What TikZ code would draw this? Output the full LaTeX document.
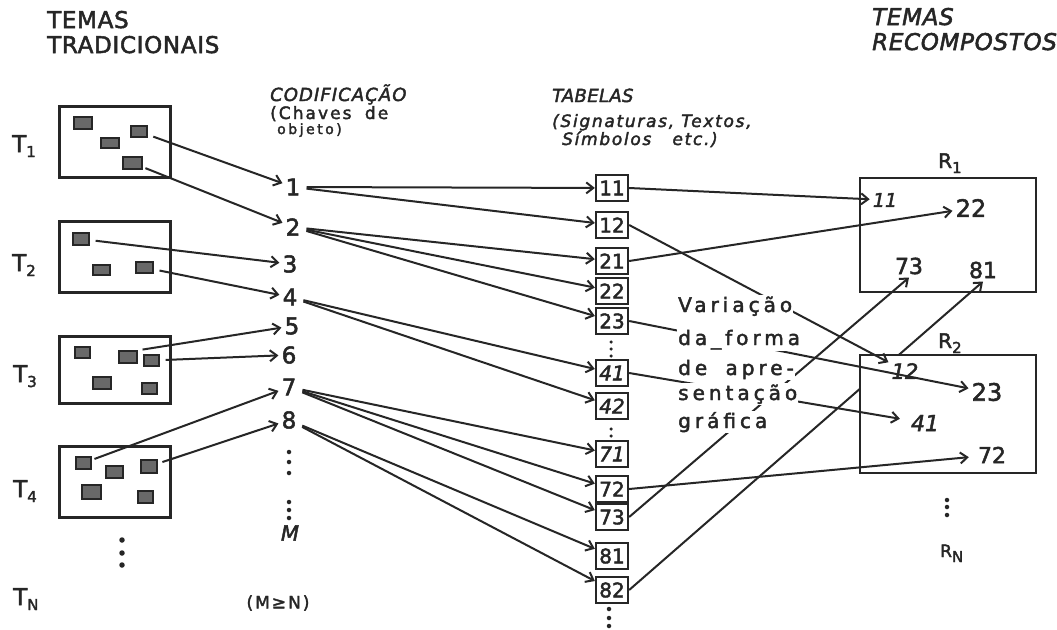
\documentclass[tikz,border=0pt]{standalone}
\usepackage{fontspec}
\setmainfont{DejaVu Sans}[FakeBold=2.2]
\usetikzlibrary{arrows.meta}
\definecolor{ink}{RGB}{38,38,38}
\definecolor{chip}{RGB}{105,105,105}
\newcommand\lowsub[1]{\raisebox{-5pt}{\fontsize{15}{15}\selectfont #1}}
\begin{document}
\begin{tikzpicture}[x=1pt,y=-1pt,
  every node/.style={text=ink},
  arr/.style={draw=ink,line width=2pt,-{Straight Barb[length=7pt,width=11pt]},shorten <=3pt},
  theme/.style={draw=ink,line width=3pt,inner sep=0pt,minimum width=111pt},
  chipbox/.style={draw=ink,fill=chip,line width=1.3pt,inner sep=0pt},
  codenum/.style={font=\fontsize{23}{23}\selectfont,inner sep=3pt},
  tabbox/.style={draw=ink,line width=2.3pt,minimum width=32pt,minimum height=26pt,inner sep=0pt,font=\fontsize{20}{20}\selectfont},
  rbox/.style={draw=ink,fill=white,line width=2.8pt,minimum width=176pt,inner sep=0pt},
  head/.style={anchor=base west,inner sep=0pt,font=\fontsize{23}{23}\selectfont\addfontfeature{LetterSpace=3}},
  heads/.style={head,font=\fontsize{23}{23}\selectfont\itshape\addfontfeature{LetterSpace=3}},
  sub/.style={anchor=base west,inner sep=0pt,font=\fontsize{17}{17}\selectfont\itshape\addfontfeature{LetterSpace=10}},
  tlab/.style={anchor=base west,inner sep=0pt,font=\fontsize{23}{23}\selectfont},
  rnum/.style={inner sep=3pt,font=\fontsize{22}{22}\selectfont},
  note/.style={anchor=base west,fill=white,inner sep=1pt,font=\fontsize{20}{20}\selectfont\addfontfeature{LetterSpace=20}},
  dot/.style={circle,fill=ink,inner sep=0pt,minimum size=4.5pt}
]
\useasboundingbox (0,0) rectangle (1057,629);
\fill[white] (0,0) rectangle (1057,629);

% headings
\node[head] (h1) at (47,28) {TEMAS};
\node[head] (h2) at (47,53) {TRADICIONAIS};
\node[heads] (h3) at (872,25) {TEMAS};
\node[heads] (h4) at (872,50) {RECOMPOSTOS};
\node[sub,font=\fontsize{18}{18}\selectfont\itshape\addfontfeature{LetterSpace=6}] (cod1) at (270,101) {CODIFICAÇÃO};
\node[sub,font=\fontsize{17}{17}\selectfont\addfontfeature{LetterSpace=12}] (cod2) at (270,119) {(Chaves\hspace{6pt} de};
\node[sub,font=\fontsize{14}{14}\selectfont\addfontfeature{LetterSpace=18}] (cod3) at (277,134) {objeto)};
\node[sub,font=\fontsize{18}{18}\selectfont\itshape\addfontfeature{LetterSpace=2}] (tab1) at (552,102) {TABELAS};
\node[sub] (tab2) at (552,127) {(Signaturas, Textos,};
\node[sub] (tab3) at (562,145) {Símbolos\hspace{14pt} etc.)};

% theme labels
\node[tlab] (T1) at (12,152) {T\lowsub{1}};
\node[tlab] (T2) at (12,271) {T\lowsub{2}};
\node[tlab] (T3) at (13,382) {T\lowsub{3}};
\node[tlab] (T4) at (13,497) {T\lowsub{4}};
\node[tlab] (TN) at (13,605) {T\lowsub{N}};

% theme boxes
\node[theme,minimum height=71pt] (B1) at (114.5,141.5) {};
\node[theme,minimum height=71pt] (B2) at (115,256.5) {};
\node[theme,minimum height=67pt] (B3) at (114.5,369.5) {};
\node[theme,minimum height=71pt] (B4) at (115,481.5) {};

% chips
\node[chipbox,minimum width=18pt,minimum height=12pt] (a1a) at (83,123) {};
\node[chipbox,minimum width=18pt,minimum height=10pt] (a1b) at (110,143) {};
\node[chipbox,minimum width=16pt,minimum height=11pt] (a1c) at (139,131.5) {};
\node[chipbox,minimum width=19pt,minimum height=12pt] (a1d) at (132.5,163) {};
\node[chipbox,minimum width=16pt,minimum height=12pt] (a2a) at (81,239) {};
\node[chipbox,minimum width=17pt,minimum height=10pt] (a2b) at (101.5,270) {};
\node[chipbox,minimum width=17pt,minimum height=11pt] (a2c) at (144.5,267.5) {};
\node[chipbox,minimum width=15pt,minimum height=11pt] (a3a) at (82.5,352.5) {};
\node[chipbox,minimum width=18pt,minimum height=12pt] (a3b) at (128,357) {};
\node[chipbox,minimum width=15pt,minimum height=11pt] (a3c) at (151.5,360.5) {};
\node[chipbox,minimum width=18pt,minimum height=12pt] (a3d) at (102,383) {};
\node[chipbox,minimum width=15pt,minimum height=11pt] (a3e) at (149.5,388.5) {};
\node[chipbox,minimum width=15pt,minimum height=12pt] (a4a) at (83.5,463) {};
\node[chipbox,minimum width=17pt,minimum height=12pt] (a4b) at (114.5,472) {};
\node[chipbox,minimum width=16pt,minimum height=13pt] (a4c) at (149,466.5) {};
\node[chipbox,minimum width=19pt,minimum height=14pt] (a4d) at (91.5,492) {};
\node[chipbox,minimum width=15pt,minimum height=12pt] (a4e) at (145.5,497) {};

\node[dot,minimum size=5.5pt] (td1) at (122,540) {};
\node[dot,minimum size=5.5pt] (td2) at (122,553) {};
\node[dot,minimum size=5.5pt] (td3) at (122,565) {};

% codes
\node[codenum] (c1) at (293,187) {1};
\node[codenum] (c2) at (293,227) {2};
\node[codenum] (c3) at (290,264) {3};
\node[codenum] (c4) at (290,297) {4};
\node[codenum] (c5) at (292,326) {5};
\node[codenum] (c6) at (289,355) {6};
\node[codenum] (c7) at (289,387) {7};
\node[codenum] (c8) at (289,420) {8};
\node[dot] (cd1) at (289,452) {};
\node[dot] (cd2) at (289,462) {};
\node[dot] (cd3) at (289,473) {};
\node[dot] (cd4) at (289,502) {};
\node[dot] (cd5) at (289,510) {};
\node[dot] (cd6) at (289,518) {};
\node[inner sep=0pt,font=\fontsize{21}{21}\selectfont\itshape] (cM) at (290,533) {M};
\node[inner sep=0pt,font=\fontsize{17}{17}\selectfont\addfontfeature{LetterSpace=12}] (cMN) at (278,603) {(M≥N)};

% tables
\node[tabbox] (t11) at (612,188) {11};
\node[tabbox] (t12) at (612,225) {12};
\node[tabbox] (t21) at (612,261) {21};
\node[tabbox] (t22) at (612,291) {22};
\node[tabbox] (t23) at (612,321) {23};
\node[tabbox] (t41) at (612,373) {\itshape 41};
\node[tabbox] (t42) at (612,406) {\itshape 42};
\node[tabbox] (t71) at (612,454) {\itshape 71};
\node[tabbox] (t72) at (612,489) {72};
\node[tabbox] (t73) at (612,517) {73};
\node[tabbox] (t81) at (612,556) {81};
\node[tabbox] (t82) at (612,590) {82};
\node[dot,minimum size=3.5pt] (dd1) at (611,342) {};
\node[dot,minimum size=3.5pt] (dd2) at (611,349) {};
\node[dot,minimum size=3.5pt] (dd3) at (611,356) {};
\node[dot,minimum size=3.5pt] (dd4) at (611,429) {};
\node[dot,minimum size=3.5pt] (dd5) at (611,436) {};
\node[dot,minimum size=4.5pt] (dd6) at (609,609) {};
\node[dot,minimum size=4.5pt] (dd7) at (609,618) {};
\node[dot,minimum size=4.5pt] (dd8) at (609,626) {};

% R1
\node[tlab,font=\fontsize{20}{20}\selectfont] (R1l) at (938,168) {R\lowsub{1}};
\node[rbox,minimum height=114pt] (R1) at (948,235) {};
\node[rnum,font=\fontsize{19}{19}\selectfont\itshape] (r11) at (885,200) {11};
\node[rnum,font=\fontsize{24}{24}\selectfont] (r22) at (971,208) {22};
\node[rnum] (r73) at (909,266) {73};
\node[rnum] (r81) at (983,270) {81};

% left arrows
\draw[arr,shorten <=6pt] (a1c) -- (c1);
\draw[arr] (a1d) -- (c2);
\draw[arr,shorten <=6pt] (a2a) -- (c3);
\draw[arr,shorten <=6pt] (a2c) -- (c4);
\draw[arr,shorten <=5pt] (a3b.north east) -- (c5);
\draw[arr,shorten <=6pt] (a3c) -- (c6);
\draw[arr] (a4a) -- (c7);
\draw[arr,shorten <=5pt] (a4c) -- (c8);

% code to table
\draw[arr] (c1) -- (t11);
\draw[arr] (c1) -- (t12);
\draw[arr] (c2) -- (t21);
\draw[arr] (c2) -- (t22);
\draw[arr] (c2) -- (t23);
\draw[arr] (c4) -- (t41);
\draw[arr] (c4) -- (t42);
\draw[arr] (c7) -- (t71);
\draw[arr] (c7) -- (t72);
\draw[arr] (c7) -- (t73);
\draw[arr] (c8) -- (t81);
\draw[arr] (c8) -- (t82);

% line passing behind R2
\draw[arr,shorten <=0pt] (t82.east) -- (r81.south);

% R2
\node[tlab,font=\fontsize{20}{20}\selectfont] (R2l) at (938,348) {R\lowsub{2}};
\node[rbox,minimum height=118pt] (R2) at (948,414) {};
\node[rnum,font=\fontsize{21}{21}\selectfont\itshape] (q12) at (905,371) {12};
\node[rnum,font=\fontsize{24}{24}\selectfont] (q23) at (987,392) {23};
\node[rnum,font=\fontsize{22}{22}\selectfont\itshape] (q41) at (925,423) {41};
\node[rnum] (q72) at (992,455) {72};
\node[dot] (rd1) at (947,500) {};
\node[dot] (rd2) at (947,507) {};
\node[dot] (rd3) at (947,515) {};
\node[tlab,font=\fontsize{17}{17}\selectfont] (RN) at (940,557) {R\lowsub{N}};

% table to recomposed
\draw[arr,shorten <=0pt] (t11.east) -- (r11);
\draw[arr,shorten <=0pt] (t21.east) -- (r22);
\draw[arr,shorten <=0pt] (t73.east) -- (r73.south);
\draw[arr,shorten <=0pt] (t12.east) -- (q12);
\draw[arr,shorten <=0pt] (t23.east) -- (q23);
\draw[arr,shorten <=0pt,shorten >=8pt] (t41.east) -- (q41);
\draw[arr,shorten <=0pt,shorten >=6pt] (t72.east) -- (q72);

% note text
\node[note] (v1) at (677,312) {Variação};
\node[note] (v2) at (677,345) {da\_forma};
\node[note] (v3) at (677,375) {de\hspace{8pt} apre-};
\node[note] (v4) at (677,400) {sentação};
\node[note] (v5) at (677,428) {gráfica};
\end{tikzpicture}
\end{document}
